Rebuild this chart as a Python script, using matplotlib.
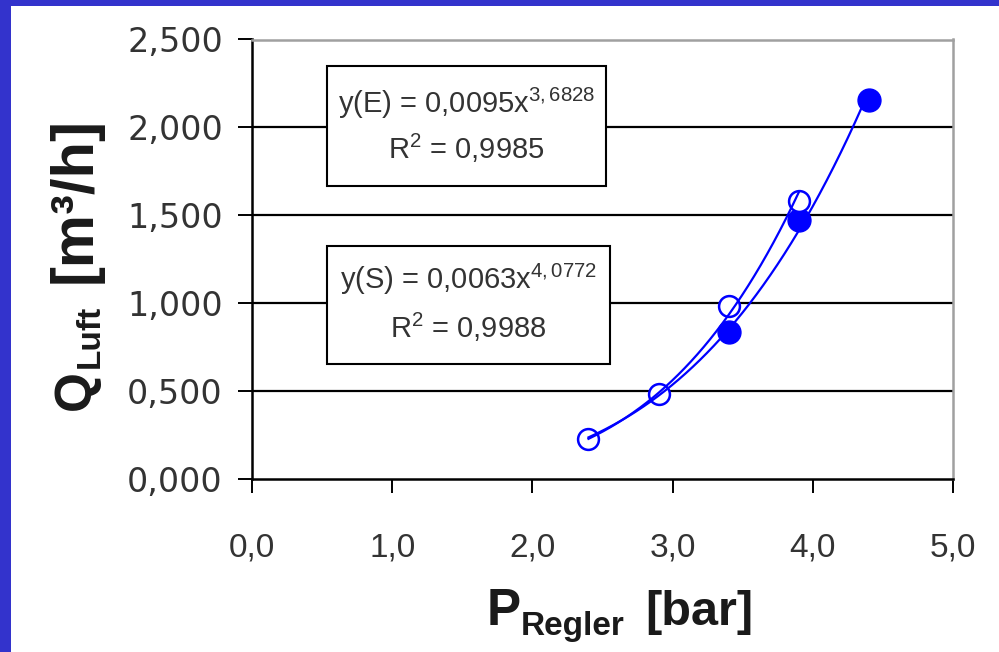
import numpy as np
import matplotlib
matplotlib.use('Agg')
import matplotlib.pyplot as plt
from matplotlib.patches import Rectangle

# ---------------- data ----------------
p_E = [3.4, 3.9, 4.4]                 # filled markers, series E
q_E = [0.833, 1.473, 2.157]
p_S = [2.4, 2.9, 3.4, 3.9]            # open markers, series S
q_S = [0.225, 0.480, 0.980, 1.583]
trend_range_E = (2.4, 4.4)
trend_range_S = (2.4, 3.9)

x_ticks = [0, 1, 2, 3, 4, 5]
x_ticklabels = ['0,0', '1,0', '2,0', '3,0', '4,0', '5,0']
y_ticks = [0.0, 0.5, 1.0, 1.5, 2.0, 2.5]
y_ticklabels = ['0,000', '0,500', '1,000', '1,500', '2,000', '2,500']

eq_E = 'y(E) = 0,0095x$^{3,6828}$'
r2_E = 'R$^{2}$ = 0,9985'
eq_S = 'y(S) = 0,0063x$^{4,0772}$'
r2_S = 'R$^{2}$ = 0,9988'

# ---------------- style ----------------
plt.rcParams['font.family'] = ['Liberation Sans', 'DejaVu Sans']
plt.rcParams['mathtext.fontset'] = 'custom'
plt.rcParams['mathtext.rm'] = 'Liberation Sans'
plt.rcParams['mathtext.it'] = 'Liberation Sans'
plt.rcParams['mathtext.bf'] = 'Liberation Sans:bold'

BLUE = '#0000ff'
FRAME = '#3333cc'
TXT = '#333333'

W, H = 999, 652
fig = plt.figure(figsize=(W / 100, H / 100), dpi=100)
fig.patch.set_facecolor('white')

# blue frame (left and top)
fig.patches.append(Rectangle((0, 0), 11 / W, 1, transform=fig.transFigure,
                             fc=FRAME, ec='none', zorder=0))
fig.patches.append(Rectangle((0, 1 - 6 / H), 1, 6 / H, transform=fig.transFigure,
                             fc=FRAME, ec='none', zorder=0))

L, R, T, B = 252, 953, 39.5, 478.5
ax = fig.add_axes([L / W, 1 - B / H, (R - L) / W, (B - T) / H])
ax.set_xlim(0, 5)
ax.set_ylim(0, 2.5)
ax.set_xticks(x_ticks)
ax.set_xticklabels(x_ticklabels)
ax.set_yticks(y_ticks)
ax.set_yticklabels(y_ticklabels, fontfamily='DejaVu Sans')

for y in y_ticks[1:-1]:
    ax.axhline(y, color='black', lw=1.6, zorder=1)

for s in ['left', 'bottom']:
    ax.spines[s].set_color('black')
    ax.spines[s].set_linewidth(1.8)
for s in ['top', 'right']:
    ax.spines[s].set_color('#a0a0a0')
    ax.spines[s].set_linewidth(1.8)

ax.tick_params(axis='both', direction='out', length=10, width=1.4,
               color='black', labelsize=24, labelcolor=TXT)
ax.tick_params(axis='y', pad=11)
ax.tick_params(axis='x', pad=29)

# markers
ax.plot(p_E, q_E, 'o', ms=16.5, color=BLUE, zorder=3, clip_on=False)
ax.plot(p_S, q_S, 'o', ms=15, mfc='white', mec=BLUE, mew=1.8, zorder=4,
        clip_on=False)

# power-law trendlines fitted to the data
for px, qy, rng in [(p_E, q_E, trend_range_E), (p_S, q_S, trend_range_S)]:
    b, lna = np.polyfit(np.log(px), np.log(qy), 1)
    xs = np.linspace(rng[0], rng[1], 200)
    ax.plot(xs, np.exp(lna) * xs ** b, color=BLUE, lw=1.6, zorder=5)

# equation boxes (axes fraction coordinates)
def fx(px):
    return (px - L) / (R - L)

def fy(py):
    return (B - py) / (B - T)

boxes = [((327, 66, 606, 186), eq_E, r2_E, 103, 148),
         ((327, 246, 610, 364), eq_S, r2_S, 279, 327)]
for (x0, y0, x1, y1), e, r2, ly1, ly2 in boxes:
    ax.add_patch(Rectangle((fx(x0), fy(y1)), fx(x1) - fx(x0), fy(y0) - fy(y1),
                           transform=ax.transAxes, fc='white', ec='black',
                           lw=1.5, zorder=6))
    cx = fx((x0 + x1) / 2)
    ax.text(cx, fy(ly1), e, transform=ax.transAxes, ha='center', va='center',
            fontsize=21, color=TXT, zorder=7)
    ax.text(cx, fy(ly2), r2, transform=ax.transAxes, ha='center', va='center',
            fontsize=21, color=TXT, zorder=7)

# axis labels built from pieces (big letter, subscript, unit)
LAB = '#1a1a1a'
fig.text(487 / W, 1 - 625 / H, 'P', fontsize=37, fontweight='bold', color=LAB,
         ha='left', va='baseline')
fig.text(521 / W, 1 - 635 / H, 'Regler', fontsize=24, fontweight='bold',
         color=LAB, ha='left', va='baseline')
fig.text(645 / W, 1 - 625 / H, '[bar]', fontsize=35, fontweight='bold',
         color=LAB, ha='left', va='baseline')

fig.text(90 / W, 1 - 410 / H, 'Q', fontsize=37, fontweight='bold', color=LAB,
         ha='left', va='baseline', rotation=90, rotation_mode='anchor')
fig.text(99 / W, 1 - 368 / H, 'Luft', fontsize=24, fontweight='bold',
         color=LAB, ha='left', va='baseline', rotation=90,
         rotation_mode='anchor')
fig.text(91 / W, 1 - 283 / H, '[m³/h]', fontsize=43, fontweight='bold',
         color=LAB, ha='left', va='baseline', rotation=90,
         rotation_mode='anchor')

fig.savefig('out.png', dpi=100, facecolor='white')
